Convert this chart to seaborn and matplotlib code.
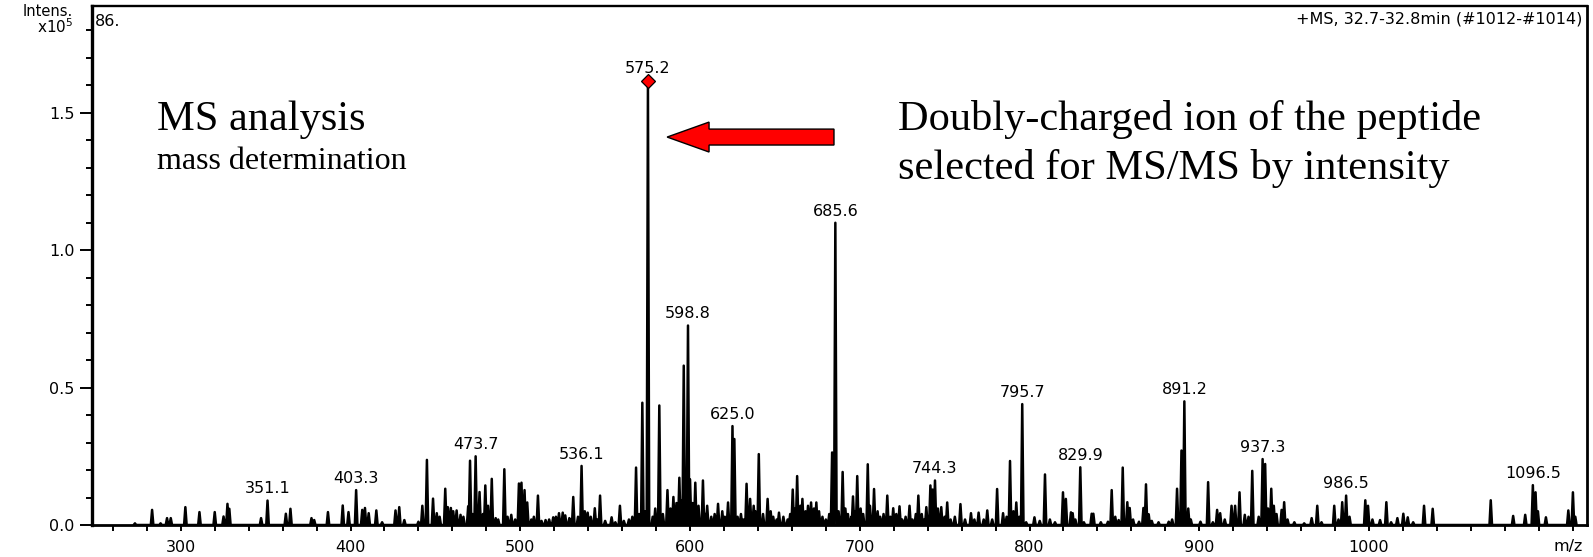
import numpy as np
import pandas as pd
import matplotlib
matplotlib.use("Agg")
import matplotlib.pyplot as plt
import matplotlib.transforms as mtransforms
from matplotlib.patches import FancyArrow
from matplotlib.ticker import FixedLocator, MultipleLocator, FormatStrFormatter
import seaborn as sns

# Peak list (m/z, intensity in units of 1e5)
peak_mz = [
    273.0, 283.1, 288.1, 291.9, 294.1, 302.7, 311.0, 320.0, 325.2, 327.5,
    328.6, 347.3, 351.1, 361.9, 364.6, 377.0, 378.6, 386.7, 395.4, 398.8,
    403.3, 406.9, 408.5, 410.7, 415.2, 418.6, 426.5, 428.7, 431.7, 440.0,
    442.3, 445.0, 448.6, 450.8, 455.8, 457.3, 459.1, 462.5, 464.8, 469.3,
    470.4, 473.7, 476.0, 479.4, 481.0, 483.2, 485.5, 490.6, 494.7, 499.2,
    500.7, 502.5, 504.1, 510.4, 514.9, 519.4, 522.8, 525.0, 528.9, 531.2,
    536.1, 539.7, 543.9, 547.0, 553.8, 558.7, 568.2, 571.9, 575.2, 581.9,
    586.7, 590.2, 593.7, 596.3, 598.8, 600.0, 603.1, 607.6, 610.1, 616.5,
    622.4, 625.0, 626.1, 633.3, 635.4, 640.5, 645.7, 652.4, 660.5, 663.1,
    666.2, 671.3, 674.4, 683.7, 685.6, 689.9, 696.0, 698.5, 704.7, 708.4,
    716.2, 719.7, 723.4, 729.3, 734.5, 739.2, 741.6, 742.9, 744.3, 748.0,
    751.5, 759.3, 765.5, 770.0, 775.1, 780.9, 784.4, 788.5, 792.2, 795.7,
    802.9, 809.1, 819.7, 821.4, 824.4, 825.4, 829.9, 836.6, 837.6, 846.2,
    848.4, 852.5, 854.9, 857.6, 859.0, 864.5, 867.1, 868.6, 870.2, 882.0,
    886.9, 889.5, 891.2, 900.7, 905.2, 910.5, 912.3, 919.0, 921.1, 923.7,
    926.8, 931.2, 937.3, 938.8, 942.4, 943.9, 948.5, 950.0, 961.8, 966.2,
    969.5, 979.5, 984.2, 986.5, 997.8, 999.4, 1006.5, 1010.2, 1016.7, 1020.2,
    1022.8, 1032.4, 1037.5, 1071.7, 1084.9, 1092.0, 1096.5, 1098.1, 1104.2, 1117.4,
    1120.1,
]
peak_int = [
    0.006, 0.055, 0.006, 0.025, 0.025, 0.065, 0.047, 0.047, 0.031, 0.077,
    0.059, 0.025, 0.089, 0.041, 0.059, 0.025, 0.018, 0.047, 0.071, 0.047,
    0.127, 0.055, 0.062, 0.043, 0.053, 0.010, 0.053, 0.065, 0.018, 0.012,
    0.070, 0.237, 0.096, 0.043, 0.132, 0.065, 0.062, 0.053, 0.037, 0.068,
    0.234, 0.250, 0.120, 0.144, 0.070, 0.168, 0.025, 0.203, 0.037, 0.151,
    0.154, 0.127, 0.082, 0.107, 0.018, 0.028, 0.043, 0.045, 0.025, 0.102,
    0.215, 0.045, 0.061, 0.107, 0.028, 0.070, 0.209, 0.445, 1.600, 0.435,
    0.127, 0.102, 0.172, 0.580, 0.726, 0.166, 0.154, 0.162, 0.070, 0.077,
    0.082, 0.360, 0.313, 0.150, 0.095, 0.258, 0.095, 0.045, 0.129, 0.178,
    0.095, 0.082, 0.082, 0.264, 1.100, 0.193, 0.104, 0.178, 0.221, 0.131,
    0.107, 0.061, 0.068, 0.070, 0.107, 0.065, 0.144, 0.129, 0.162, 0.065,
    0.082, 0.076, 0.043, 0.045, 0.053, 0.131, 0.043, 0.233, 0.082, 0.440,
    0.028, 0.184, 0.119, 0.095, 0.046, 0.043, 0.210, 0.041, 0.041, 0.012,
    0.127, 0.018, 0.209, 0.083, 0.062, 0.012, 0.062, 0.148, 0.039, 0.012,
    0.132, 0.271, 0.450, 0.012, 0.156, 0.055, 0.043, 0.070, 0.070, 0.119,
    0.037, 0.197, 0.240, 0.222, 0.132, 0.070, 0.055, 0.083, 0.006, 0.025,
    0.070, 0.070, 0.083, 0.107, 0.090, 0.070, 0.018, 0.083, 0.025, 0.041,
    0.028, 0.070, 0.059, 0.090, 0.033, 0.037, 0.145, 0.119, 0.028, 0.053,
    0.119,
]

# low-level clutter between the main peaks
noise_mz = [
    452.5, 460.5, 466.5, 472.0, 478.0, 487.0, 492.5, 497.0, 506.5, 508.0,
    512.5, 517.0, 521.0, 526.5, 530.0, 534.0, 538.0, 541.5, 545.5, 550.0,
    556.0, 561.0, 564.0, 566.0, 570.0, 573.5, 578.0, 579.5, 584.0, 588.5,
    592.0, 595.0, 601.5, 605.0, 609.0, 612.5, 614.5, 619.0, 620.5, 628.0,
    630.0, 631.5, 637.5, 638.5, 643.0, 647.5, 649.0, 651.0, 655.0, 657.5,
    659.0, 662.0, 665.0, 668.0, 669.5, 673.0, 676.0, 678.0, 680.0, 682.0,
    687.5, 691.5, 693.0, 695.0, 697.5, 700.5, 702.0, 706.0, 710.5, 712.0,
    714.0, 718.0, 721.5, 725.0, 727.0, 731.0, 733.0, 736.5, 738.0, 746.0,
    750.0, 753.5, 756.0, 762.0, 767.5, 773.0, 778.0, 786.5, 790.5, 794.0,
    798.0, 806.0, 812.0, 815.0, 827.0, 832.0, 842.0, 850.5, 861.0, 872.0,
    876.0, 884.0, 893.5, 895.0, 908.0, 915.0, 929.0, 935.0, 940.5, 945.5,
    952.0, 956.0, 972.0, 982.0, 988.5, 1002.0, 1013.0, 1026.0, 1099.5, 1121.5,
]
noise_int = [
    0.030, 0.050, 0.030, 0.040, 0.040, 0.020, 0.030, 0.020, 0.020, 0.030,
    0.015, 0.020, 0.030, 0.035, 0.020, 0.030, 0.050, 0.030, 0.020, 0.015,
    0.010, 0.015, 0.020, 0.030, 0.040, 0.050, 0.030, 0.060, 0.040, 0.060,
    0.080, 0.090, 0.080, 0.070, 0.040, 0.030, 0.040, 0.050, 0.030, 0.030,
    0.040, 0.020, 0.070, 0.050, 0.040, 0.050, 0.030, 0.020, 0.030, 0.020,
    0.040, 0.060, 0.070, 0.050, 0.070, 0.060, 0.050, 0.030, 0.020, 0.040,
    0.050, 0.060, 0.040, 0.030, 0.050, 0.060, 0.040, 0.070, 0.050, 0.030,
    0.040, 0.030, 0.040, 0.020, 0.030, 0.020, 0.040, 0.040, 0.020, 0.060,
    0.030, 0.020, 0.030, 0.020, 0.020, 0.020, 0.020, 0.030, 0.050, 0.030,
    0.010, 0.015, 0.020, 0.010, 0.020, 0.010, 0.010, 0.030, 0.020, 0.015,
    0.010, 0.020, 0.060, 0.020, 0.010, 0.020, 0.030, 0.030, 0.060, 0.040,
    0.020, 0.010, 0.010, 0.020, 0.030, 0.020, 0.010, 0.010, 0.050, 0.030,
]

labelled_mz = [351.1, 403.3, 473.7, 536.1, 575.2, 598.8, 625.0, 685.6, 744.3,
               795.7, 829.9, 891.2, 937.3, 986.5, 1096.5]
precursor_mz = 575.2

x_major = [300, 400, 500, 600, 700, 800, 900, 1000]

sns.set_theme(style="white")
plt.rcParams["font.family"] = ["DejaVu Sans"]
plt.rcParams["text.color"] = "black"
plt.rcParams["axes.edgecolor"] = "black"
plt.rcParams["xtick.color"] = "black"
plt.rcParams["ytick.color"] = "black"

W, H = 1593, 557
fig = plt.figure(figsize=(W / 100, H / 100), dpi=100)
ax = fig.add_axes([92 / W, 1 - 525 / H, (1587 - 92) / W, (525 - 6) / H])

# stick-like profile: each centroid drawn as a narrow triangle
all_mz = np.array(peak_mz + noise_mz)
all_int = np.array(peak_int + noise_int)
order = np.argsort(all_mz)
mz_s, int_s = all_mz[order], all_int[order]
half = 0.75
xs = np.column_stack([mz_s - half, mz_s, mz_s + half]).ravel()
ys = np.column_stack([np.zeros_like(int_s), int_s, np.zeros_like(int_s)]).ravel()
spec = pd.DataFrame({"mz": xs, "intensity": ys})
sns.lineplot(data=spec, x="mz", y="intensity", sort=False, estimator=None,
             color="black", lw=1.8, ax=ax)

ax.set_xlim(247.7, 1128.4)
ax.set_ylim(0, 1.889)
ax.set_xlabel("")
ax.set_ylabel("")

ax.xaxis.set_major_locator(FixedLocator(x_major))
ax.xaxis.set_minor_locator(MultipleLocator(20))
ax.yaxis.set_major_locator(MultipleLocator(0.5))
ax.yaxis.set_minor_locator(MultipleLocator(0.1))
ax.yaxis.set_major_formatter(FormatStrFormatter("%.1f"))

ax.tick_params(axis="x", which="both", direction="out", length=4.5, width=1.4,
               color="black", bottom=True, labelsize=11.5, pad=6)
ax.tick_params(axis="y", which="major", direction="out", length=8.5, width=1.4,
               color="black", left=True, labelsize=11.5, pad=4)
ax.tick_params(axis="y", which="minor", direction="out", length=4, width=1.4,
               color="black", left=True)

ax.spines["left"].set_linewidth(2.4)
ax.spines["bottom"].set_linewidth(2.0)
ax.spines["top"].set_linewidth(1.7)
ax.spines["right"].set_linewidth(2.0)

# peak labels
lookup = dict(zip(peak_mz, peak_int))
for mz in labelled_mz:
    h = lookup[mz]
    off = 6.5 if mz == precursor_mz else 3
    ax.annotate(f"{mz:.1f}", (mz, h), xytext=(0, off), textcoords="offset points",
                ha="center", va="bottom", fontsize=11.5, color="black")

# precursor marker (red diamond on top of the selected peak)
diamond_tr = mtransforms.offset_copy(ax.transData, fig=fig, y=4, units="dots")
ax.plot([precursor_mz], [lookup[precursor_mz]], marker="D", ms=6.8,
        mfc="red", mec="black", mew=0.9, transform=diamond_tr, zorder=5)

# red arrow pointing at the precursor
ax.add_patch(FancyArrow(684.8, 1.412, -98.3, 0, width=0.058, head_width=0.109,
                        head_length=24.7, length_includes_head=True,
                        fc="red", ec="black", lw=1.0, zorder=6))

# header texts
ax.text(0.002, 0.985, "86.", transform=ax.transAxes, ha="left", va="top",
        fontsize=11.5)
ax.text(0.997, 0.99, "+MS, 32.7-32.8min (#1012-#1014)", transform=ax.transAxes,
        ha="right", va="top", fontsize=11.5,
        bbox=dict(fc="white", ec="none", pad=1))
fig.text(1583 / W, 1 - 547 / H, "m/z", ha="right", va="center", fontsize=11.5)
fig.text(73 / W, 1 - 16 / H, "Intens.", ha="right", va="baseline", fontsize=10.5)
fig.text(73 / W, 1 - 33 / H, r"x10$^{5}$", ha="right", va="baseline", fontsize=11)

serif = ["Liberation Serif", "DejaVu Serif"]
fig.text(157 / W, 1 - 130 / H, "MS analysis", family=serif, fontsize=30.5,
         ha="left", va="baseline")
fig.text(157 / W, 1 - 169 / H, "mass determination", family=serif, fontsize=23,
         ha="left", va="baseline")
fig.text(898 / W, 1 - 130 / H, "Doubly-charged ion of the peptide", family=serif,
         fontsize=30.5, ha="left", va="baseline")
fig.text(898 / W, 1 - 179 / H, "selected for MS/MS by intensity", family=serif,
         fontsize=30.5, ha="left", va="baseline")

fig.savefig("out.png", dpi=100, facecolor="white")
